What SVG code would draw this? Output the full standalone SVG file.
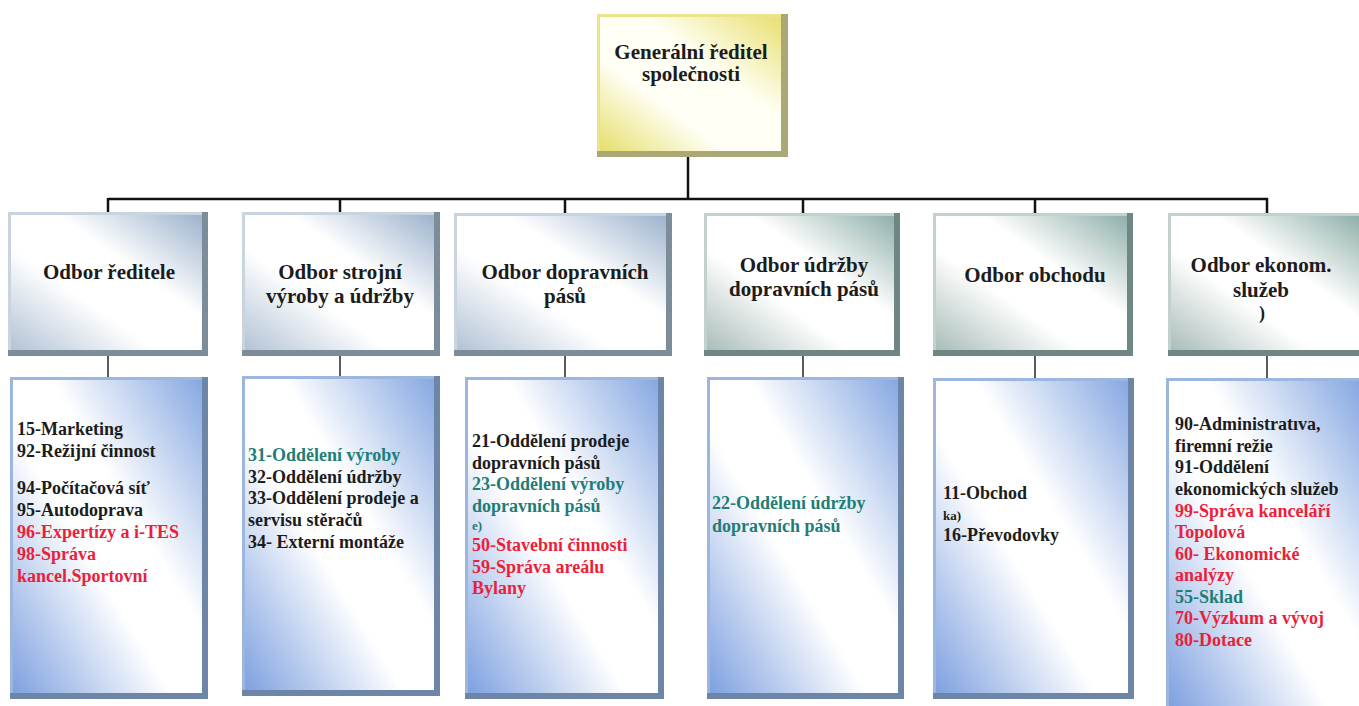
<svg xmlns="http://www.w3.org/2000/svg" width="1359" height="706" viewBox="0 0 1359 706">
<style>
.t{font-family:"Liberation Serif","Times New Roman",serif;font-weight:bold}
.h{font-size:21px;text-anchor:middle;fill:#1c1c1c}
.c{font-size:18px;fill:#1c1c1c}
.red{fill:#ec1f3a}
.teal{fill:#1f7d76}
.sm{font-size:13px}
.line{stroke:#111;stroke-width:2.5;fill:none}
.line2{stroke:#333;stroke-width:1.6;fill:none}
.fhb{fill:#c9d4df}.dhb{fill:#7d8c99}
.fht{fill:#c3d0cd}.dht{fill:#6f8784}
.fc{fill:#9db6e0}.dc{fill:#6d86a8}
.fy{fill:#ebe48c}.dy{fill:#aba878}
</style>
<defs>
<linearGradient id="gHB" x1="0" y1="1" x2="1" y2="0">
<stop offset="0" stop-color="#b3c3d6"/><stop offset="0.38" stop-color="#ffffff"/><stop offset="0.62" stop-color="#ffffff"/><stop offset="1" stop-color="#9cb3cd"/>
</linearGradient>
<linearGradient id="gHT" x1="0" y1="1" x2="1" y2="0">
<stop offset="0" stop-color="#a9bdb9"/><stop offset="0.38" stop-color="#ffffff"/><stop offset="0.62" stop-color="#ffffff"/><stop offset="1" stop-color="#8fb0aa"/>
</linearGradient>
<linearGradient id="gC" x1="0" y1="1" x2="1" y2="0">
<stop offset="0" stop-color="#7ea1e0"/><stop offset="0.42" stop-color="#ffffff"/><stop offset="0.6" stop-color="#ffffff"/><stop offset="1" stop-color="#86a8e2"/>
</linearGradient>
<linearGradient id="gY" x1="0" y1="1" x2="1" y2="0">
<stop offset="0" stop-color="#e6df6c"/><stop offset="0.35" stop-color="#fffff6"/><stop offset="0.62" stop-color="#fffff4"/><stop offset="1" stop-color="#e8e070"/>
</linearGradient>
</defs>

<g id="connectors">
<path class="line" d="M688,157 V199 M108,199 H1268 M108,198 V213 M340,198 V213 M565,198 V214 M803,198 V214 M1035,198 V214 M1267,198 V214"/>
<path class="line2" d="M108,356 V378 M340,356 V377 M565,356 V378 M803,356 V378 M1035,356 V379 M1267,356 V379"/>
</g>

<g id="gen">
<rect class="fy" x="597" y="14" width="191" height="143"/>
<rect class="dy" x="781" y="14" width="7" height="143"/>
<rect class="dy" x="597" y="151" width="191" height="6"/>
<rect x="600" y="17" width="181" height="134" fill="url(#gY)"/>
<text class="t h" x="691" y="59">Generální ředitel</text>
<text class="t h" x="691" y="81">společnosti</text>
</g>

<g id="h1">
<rect class="fhb" x="8" y="212" width="200" height="144"/>
<rect class="dhb" x="202" y="212" width="6" height="144"/>
<rect class="dhb" x="8" y="350" width="200" height="6"/>
<rect x="11" y="215" width="191" height="135" fill="url(#gHB)"/>
<text class="t h" x="109" y="279">Odbor ředitele</text>
</g>
<g id="h2">
<rect class="fhb" x="242" y="212" width="198" height="144"/>
<rect class="dhb" x="434" y="212" width="6" height="144"/>
<rect class="dhb" x="242" y="350" width="198" height="6"/>
<rect x="245" y="215" width="189" height="135" fill="url(#gHB)"/>
<text class="t h" x="340" y="279">Odbor strojní</text>
<text class="t h" x="340" y="303">výroby a údržby</text>
</g>
<g id="h3">
<rect class="fhb" x="454" y="213" width="218" height="143"/>
<rect class="dhb" x="666" y="213" width="6" height="143"/>
<rect class="dhb" x="454" y="350" width="218" height="6"/>
<rect x="457" y="216" width="209" height="134" fill="url(#gHB)"/>
<text class="t h" x="565" y="279">Odbor dopravních</text>
<text class="t h" x="565" y="303">pásů</text>
</g>
<g id="h4">
<rect class="fht" x="704" y="213" width="196" height="143"/>
<rect class="dht" x="894" y="213" width="6" height="143"/>
<rect class="dht" x="704" y="350" width="196" height="6"/>
<rect x="707" y="216" width="187" height="134" fill="url(#gHT)"/>
<text class="t h" x="804" y="272">Odbor údržby</text>
<text class="t h" x="804" y="296">dopravních pásů</text>
</g>
<g id="h5">
<rect class="fht" x="933" y="213" width="200" height="143"/>
<rect class="dht" x="1127" y="213" width="6" height="143"/>
<rect class="dht" x="933" y="350" width="200" height="6"/>
<rect x="936" y="216" width="191" height="134" fill="url(#gHT)"/>
<text class="t h" x="1035" y="282">Odbor obchodu</text>
</g>
<g id="h6">
<rect class="fht" x="1168" y="213" width="191" height="143"/>
<rect class="dht" x="1168" y="350" width="191" height="6"/>
<rect x="1171" y="216" width="188" height="134" fill="url(#gHT)"/>
<text class="t h" x="1261" y="272">Odbor ekonom.</text>
<text class="t h" x="1261" y="297">služeb</text>
<text class="t c" x="1259" y="319" font-size="15">)</text>
</g>

<g id="c1">
<rect class="fc" x="10" y="377" width="198" height="322"/>
<rect class="dc" x="202" y="377" width="6" height="322"/>
<rect class="dc" x="10" y="693" width="198" height="6"/>
<rect x="13" y="380" width="189" height="313" fill="url(#gC)"/>
<text class="t c" x="17" y="435">15-Marketing</text>
<text class="t c" x="17" y="457">92-Režijní činnost</text>
<text class="t c" x="17" y="494">94-Počítačová síť</text>
<text class="t c" x="17" y="516">95-Autodoprava</text>
<text class="t c red" x="17" y="538">96-Expertízy a i-TES</text>
<text class="t c red" x="17" y="560">98-Správa</text>
<text class="t c red" x="17" y="582">kancel.Sportovní</text>
</g>
<g id="c2">
<rect class="fc" x="242" y="376" width="198" height="320"/>
<rect class="dc" x="434" y="376" width="6" height="320"/>
<rect class="dc" x="242" y="690" width="198" height="6"/>
<rect x="245" y="379" width="189" height="311" fill="url(#gC)"/>
<text class="t c teal" x="248" y="461">31-Oddělení výroby</text>
<text class="t c" x="248" y="483">32-Oddělení údržby</text>
<text class="t c" x="248" y="504">33-Oddělení prodeje a</text>
<text class="t c" x="248" y="526">servisu stěračů</text>
<text class="t c" x="248" y="548">34- Externí montáže</text>
</g>
<g id="c3">
<rect class="fc" x="465" y="377" width="199" height="322"/>
<rect class="dc" x="658" y="377" width="6" height="322"/>
<rect class="dc" x="465" y="693" width="199" height="6"/>
<rect x="468" y="380" width="190" height="313" fill="url(#gC)"/>
<text class="t c" x="472" y="447">21-Oddělení prodeje</text>
<text class="t c" x="472" y="469">dopravních pásů</text>
<text class="t c teal" x="472" y="490">23-Oddělení výroby</text>
<text class="t c teal" x="472" y="512">dopravních pásů</text>
<text class="t c teal sm" x="472" y="530">e)</text>
<text class="t c red" x="472" y="551">50-Stavební činnosti</text>
<text class="t c red" x="472" y="573">59-Správa areálu</text>
<text class="t c red" x="472" y="594">Bylany</text>
</g>
<g id="c4">
<rect class="fc" x="707" y="377" width="197" height="322"/>
<rect class="dc" x="898" y="377" width="6" height="322"/>
<rect class="dc" x="707" y="693" width="197" height="6"/>
<rect x="710" y="380" width="188" height="313" fill="url(#gC)"/>
<text class="t c teal" x="712" y="509">22-Oddělení údržby</text>
<text class="t c teal" x="712" y="532">dopravních pásů</text>
</g>
<g id="c5">
<rect class="fc" x="933" y="378" width="201" height="321"/>
<rect class="dc" x="1128" y="378" width="6" height="321"/>
<rect class="dc" x="933" y="693" width="201" height="6"/>
<rect x="936" y="381" width="192" height="312" fill="url(#gC)"/>
<text class="t c" x="943" y="499">11-Obchod</text>
<text class="t c sm" x="943" y="520">ka)</text>
<text class="t c" x="943" y="541">16-Převodovky</text>
</g>
<g id="c6">
<rect class="fc" x="1166" y="378" width="193" height="328"/>
<rect x="1169" y="381" width="190" height="325" fill="url(#gC)"/>
<text class="t c" x="1175" y="430">90-Administratıva,</text>
<text class="t c" x="1175" y="452">firemní režie</text>
<text class="t c" x="1175" y="473">91-Oddělení</text>
<text class="t c" x="1175" y="495">ekonomických služeb</text>
<text class="t c red" x="1175" y="517">99-Správa kanceláří</text>
<text class="t c red" x="1175" y="538">Topolová</text>
<text class="t c red" x="1175" y="560">60- Ekonomické</text>
<text class="t c red" x="1175" y="581">analýzy</text>
<text class="t c teal" x="1175" y="603">55-Sklad</text>
<text class="t c red" x="1175" y="624">70-Výzkum a vývoj</text>
<text class="t c red" x="1175" y="646">80-Dotace</text>
</g>
</svg>
